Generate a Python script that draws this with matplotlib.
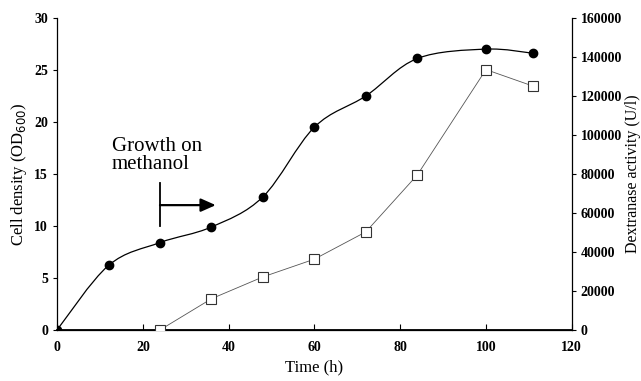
import numpy as np
import matplotlib
matplotlib.use("Agg")
import matplotlib.pyplot as plt
from matplotlib.path import Path
from matplotlib.patches import PathPatch

plt.rcParams['font.family'] = ['Liberation Serif', 'DejaVu Serif']

# data
time_od = [0, 12, 24, 36, 48, 60, 72, 84, 100, 111]
od600 = [0, 6.2, 8.4, 9.9, 12.8, 19.5, 22.5, 26.1, 27.0, 26.6]
time_dex = [24, 36, 48, 60, 72, 84, 100, 111]
dextranase = [0, 16000, 27200, 36300, 50300, 79500, 133500, 125000]


def smooth_path(x, y, tension=0.5):
    # Catmull-Rom style Bezier path through the points (Excel "smoothed line")
    x = np.asarray(x, float)
    y = np.asarray(y, float)
    verts = [(x[0], y[0])]
    codes = [Path.MOVETO]
    n = len(x)
    for i in range(n - 1):
        p0 = (x[max(i - 1, 0)], y[max(i - 1, 0)])
        p1 = (x[i], y[i])
        p2 = (x[i + 1], y[i + 1])
        p3 = (x[min(i + 2, n - 1)], y[min(i + 2, n - 1)])
        c1 = (p1[0] + (p2[0] - p0[0]) * tension / 3, p1[1] + (p2[1] - p0[1]) * tension / 3)
        c2 = (p2[0] - (p3[0] - p1[0]) * tension / 3, p2[1] - (p3[1] - p1[1]) * tension / 3)
        verts += [c1, c2, p2]
        codes += [Path.CURVE4] * 3
    return Path(verts, codes)


fig = plt.figure(figsize=(6.41, 3.81), dpi=100)
ax = fig.add_axes([0.089, 0.134, 0.803, 0.819])
ax2 = ax.twinx()

ax.add_patch(PathPatch(smooth_path(time_od, od600), fill=False, lw=0.9, color='black', zorder=3))
ax.plot(time_od, od600, 'o', color='black', ms=6, zorder=4)

ax2.plot(time_dex, dextranase, '-', color='#555555', lw=0.6, zorder=3)
ax2.plot(time_dex, dextranase, 's', mfc='white', mec='#333333', mew=0.8, ms=6.5, zorder=4)

ax.set_xlim(0, 120)
ax.set_ylim(0, 30)
ax2.set_ylim(0, 160000)
ax.set_xticks(range(0, 121, 20))
ax.set_yticks(range(0, 31, 5))
ax2.set_yticks(range(0, 160001, 20000))

for a in (ax, ax2):
    a.spines['top'].set_visible(False)
    for s in a.spines.values():
        s.set_linewidth(0.9)
ax2.spines['left'].set_visible(False)
ax.spines['right'].set_visible(False)
ax.spines['bottom'].set_linewidth(1.3)

ax.tick_params(axis='x', direction='in', length=4, labelsize=10, pad=8)
ax.tick_params(axis='y', direction='out', length=3, labelsize=10)
ax2.tick_params(axis='y', direction='out', length=3, labelsize=10)
for lab in ax.get_xticklabels() + ax.get_yticklabels() + ax2.get_yticklabels():
    lab.set_fontweight('bold')

ax.set_xlabel('Time (h)', fontsize=12)
ax.set_ylabel('Cell density (OD$_{600}$)', fontsize=12)
ax2.set_ylabel('Dextranase activity (U/l)', fontsize=11.5, labelpad=2)

ax.text(12.8, 15.0, 'Growth on\nmethanol', fontsize=15, linespacing=0.95, va='bottom', ha='left')
ax.plot([24, 24], [10.0, 14.1], color='black', lw=1.3)
ax.annotate('', xy=(37, 12.0), xytext=(24, 12.0),
            arrowprops=dict(arrowstyle='-|>,head_length=0.9,head_width=0.4', color='black', lw=1.6,
                            shrinkA=0, shrinkB=0))

fig.savefig('out.png', dpi=100)
